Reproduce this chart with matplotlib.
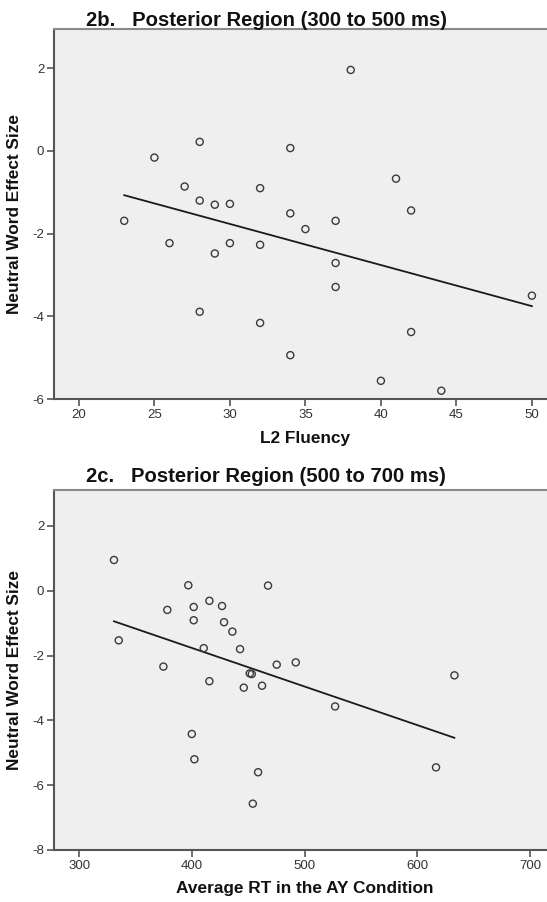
import numpy as np
import matplotlib
matplotlib.use("Agg")
import matplotlib.pyplot as plt

plt.rcParams['font.family'] = ['Liberation Sans', 'DejaVu Sans']
plt.rcParams['axes.unicode_minus'] = False

# Panel 2b data
fluency = [23, 25, 28, 27, 28, 29, 30, 32, 34, 34, 35, 26, 30, 32, 29, 28, 32, 34,
           38, 41, 42, 37, 37, 37, 50, 42, 40, 44]
effect_b = [-1.69, -0.16, 0.22, -0.86, -1.20, -1.30, -1.28, -0.90, 0.07, -1.51, -1.89,
            -2.23, -2.23, -2.27, -2.48, -3.89, -4.16, -4.94,
            1.96, -0.67, -1.44, -1.69, -2.71, -3.29, -3.50, -4.38, -5.56, -5.80]

# Panel 2c data
rt = [331.0, 335.2, 396.9, 378.3, 401.7, 401.7, 415.6, 426.8, 428.6, 436.0, 410.6,
      442.8, 467.6, 374.8, 415.6, 451.4, 453.2, 446.1, 462.3, 475.3, 492.2, 400.0,
      402.3, 458.8, 454.1, 527.1, 632.9, 616.6]
effect_c = [0.95, -1.53, 0.17, -0.59, -0.50, -0.91, -0.31, -0.47, -0.97, -1.26, -1.77,
            -1.80, 0.16, -2.34, -2.79, -2.55, -2.57, -2.99, -2.93, -2.28, -2.21, -4.42,
            -5.20, -5.60, -6.57, -3.57, -2.61, -5.45]

titles = ["2b.   Posterior Region (300 to 500 ms)", "2c.   Posterior Region (500 to 700 ms)"]
xlabels = ["L2 Fluency", "Average RT in the AY Condition"]
ylabel = "Neutral Word Effect Size"
xticks_b = [20, 25, 30, 35, 40, 45, 50]
yticks_b = [-6, -4, -2, 0, 2]
xticks_c = [300, 400, 500, 600, 700]
yticks_c = [-8, -6, -4, -2, 0, 2]

W, H = 547, 902
fig = plt.figure(figsize=(W / 100, H / 100), dpi=100)
fig.patch.set_facecolor('white')

def px_rect(l, t, r, b):
    return [l / W, (H - b) / H, (r - l) / W, (b - t) / H]

panels = [
    dict(x=fluency, y=effect_b, rect=px_rect(54, 29, 547, 399), xlim=(18.35, 51.0),
         ylim=(-6.0, 2.95), xticks=xticks_b, yticks=yticks_b, title=titles[0],
         title_y=20, xlabel=xlabels[0], xlabel_y=439),
    dict(x=rt, y=effect_c, rect=px_rect(54, 490, 547, 850), xlim=(277.8, 715.0),
         ylim=(-8.0, 3.11), xticks=xticks_c, yticks=yticks_c, title=titles[1],
         title_y=477, xlabel=xlabels[1], xlabel_y=888),
]

spine_col = '#555555'
for p in panels:
    ax = fig.add_axes(p['rect'])
    ax.set_facecolor('#efefef')
    x = np.array(p['x'])
    y = np.array(p['y'])
    ax.scatter(x, y, s=26, facecolors='none', edgecolors='#3a3a3a', linewidths=1.0, zorder=3)
    slope, intercept = np.polyfit(x, y, 1)
    xs = np.array([x.min(), x.max()])
    ax.plot(xs, slope * xs + intercept, color='#1a1a1a', lw=1.3, zorder=2)
    ax.set_xlim(*p['xlim'])
    ax.set_ylim(*p['ylim'])
    ax.set_xticks(p['xticks'])
    ax.set_yticks(p['yticks'])
    ax.tick_params(direction='out', length=5, width=1.2, color=spine_col,
                   labelsize=9.5, labelcolor='#333333', pad=2)
    for s in ['left', 'bottom']:
        ax.spines[s].set_color(spine_col)
        ax.spines[s].set_linewidth(1.5)
    ax.spines['top'].set_color('#8a8a8a')
    ax.spines['top'].set_linewidth(1.5)
    ax.spines['right'].set_visible(False)
    fig.text(266 / W, 1 - p['title_y'] / H, p['title'], ha='center', va='center',
             fontsize=14.6, fontweight='bold', color='#111111')
    fig.text(305 / W, 1 - p['xlabel_y'] / H, p['xlabel'], ha='center', va='center',
             fontsize=12.4, fontweight='bold', color='#111111')
    cy = (p['rect'][1] + p['rect'][3] / 2)
    fig.text(15 / W, cy, ylabel, ha='center', va='center', rotation=90,
             fontsize=12.4, fontweight='bold', color='#111111')

fig.savefig('out.png', dpi=100)
